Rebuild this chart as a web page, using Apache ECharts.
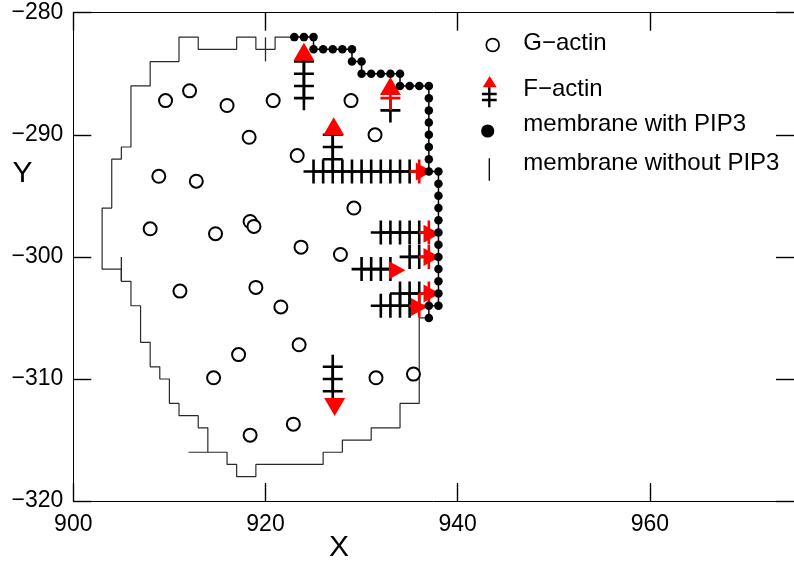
<!DOCTYPE html>
<html>
<head>
<meta charset="utf-8">
<script src="https://cdn.jsdelivr.net/npm/echarts@6/dist/echarts.min.js"></script>
<style>
  html, body { margin: 0; padding: 0; background: #fff; }
  #chart { width: 794px; height: 565px; }
</style>
</head>
<body>
<div id="chart"></div>
<script>
// Axis ticks
const xTicks = [900, 920, 940, 960];
const yTicks = [-320, -310, -300, -290, -280];

// Free G-actin monomers
const gActin = [
  [909.6, -287.2], [912.1, -286.4], [916.0, -287.6], [920.8, -287.2], [928.9, -287.2],
  [918.3, -290.2], [931.4, -290.0], [923.3, -291.7], [908.9, -293.4], [912.8, -293.8],
  [929.2, -296.0], [908.0, -297.7], [914.8, -298.1], [918.4, -297.1], [918.8, -297.5],
  [923.7, -299.2], [927.8, -299.8], [911.1, -302.8], [919.0, -302.5], [921.6, -304.1],
  [923.5, -307.2], [917.2, -308.0], [914.6, -309.9], [931.5, -309.9], [935.4, -309.6],
  [922.9, -313.7], [918.4, -314.6]
];

// Polymerised F-actin subunits
const fActin = [
  [924, -284], [924, -285], [924, -286], [924, -287],
  [933, -288],
  [927, -290], [927, -291], [927, -292],
  [925, -293], [926, -293], [927, -293], [928, -293], [929, -293], [930, -293],
  [931, -293], [932, -293], [933, -293], [934, -293], [935, -293],
  [932, -298], [933, -298], [934, -298], [935, -298], [936, -298],
  [935, -300], [936, -300],
  [930, -301], [931, -301], [932, -301], [933, -301],
  [934, -303], [935, -303], [936, -303],
  [932, -304], [933, -304], [934, -304], [935, -304],
  [927, -309], [927, -310], [927, -311]
];

// Subunit at the growing end of a filament, where it shows beside the arrowhead
const fActinEnds = [
  [933, -287], [936, -293], [937, -298], [937, -300], [937, -303], [936, -304]
];

// Barbed-end arrowheads, grouped by growth direction
const tipsUp = [[924, -283.2], [933, -286.0], [927.1, -289.3]];
const tipsRight = [[936.5, -293.0], [937.3, -298.1], [937.3, -300.0], [933.7, -301.1], [937.3, -303.0], [936.0, -304.1]];
const tipsDown = [[927.2, -312.3]];

// Membrane contour without PIP3
const membraneOutline = [
  [923, -282], [921, -282], [921, -283], [919, -283], [919, -282], [917, -282], [917, -283],
  [913, -283], [913, -282], [911, -282], [911, -284], [908, -284], [908, -286], [906, -286],
  [906, -291], [905, -291], [905, -292], [904, -292], [904, -296], [903, -296], [903, -301],
  [905, -301], [905, -302], [906, -302], [906, -304], [907, -304], [907, -307], [908, -307],
  [908, -309], [909, -309], [909, -310], [910, -310], [910, -312], [911, -312], [911, -313],
  [913, -313], [913, -314], [914, -314], [914, -316], [912, -316], [916, -316], [916, -317],
  [917, -317], [917, -318], [919, -318], [919, -317], [926, -317], [926, -316], [928, -316],
  [928, -315], [931, -315], [931, -314], [934, -314], [934, -312], [936, -312], [936, -305],
  [937, -305]
];
const membraneMarks = [[920, -283], [905, -301]];

// Membrane elements carrying PIP3
const membranePIP3 = [
  [923, -282], [924, -282], [925, -282], [925, -283], [926, -283], [927, -283], [928, -283],
  [929, -283], [929, -284], [930, -284], [930, -285], [931, -285], [932, -285], [933, -285],
  [934, -285], [934, -286], [935, -286], [936, -286], [937, -286], [937, -287], [937, -288],
  [937, -289], [937, -290], [937, -291], [937, -292], [937, -293], [938, -293], [938, -294],
  [938, -295], [938, -296], [938, -297], [938, -298], [938, -299], [938, -300], [938, -301],
  [938, -302], [938, -303], [938, -304], [937, -304], [937, -305]
];

const FONT = "'Liberation Sans', Arial, Helvetica, sans-serif";
const minus = v => String(v).replace('-', '\u2212');

function svgIcon(body) {
  const svg = "<svg xmlns='http://www.w3.org/2000/svg' width='40' height='40' viewBox='0 0 40 40'>" + body + "</svg>";
  return 'image://data:image/svg+xml;charset=utf-8,' + encodeURIComponent(svg);
}
const icons = {
  g: svgIcon("<circle cx='14.4' cy='21.7' r='6.4' fill='none' stroke='black' stroke-width='1.7'/>"),
  f: svgIcon("<polygon points='11.4,6.5 18.4,17.8 4.4,17.8' fill='red'/>" +
             "<path d='M11,17.8V37.8M3.6,24.5H18.4M3.6,30.5H18.4' stroke='black' stroke-width='2.4' fill='none'/>"),
  pip: svgIcon("<circle cx='9.4' cy='26.5' r='6.6' fill='black'/>"),
  none: svgIcon("<path d='M11,15V37.4' stroke='black' stroke-width='1.3' fill='none'/>")
};

const CROSS = 'path://M8.7,0H11.3V10.7H20V13.3H11.3V24H8.7V13.3H0V10.7H8.7Z';

const axisCommon = {
  type: 'value',
  axisLine: { show: true, onZero: false, lineStyle: { color: '#000', width: 1 } },
  axisTick: { show: true, inside: true, length: 18, lineStyle: { color: '#000', width: 1.4 } },
  splitLine: { show: false },
};

function legendItem(name, icon, top) {
  return {
    data: [{ name: name, icon: icon }],
    left: 478.3, top: top, padding: 0,
    itemWidth: 40, itemHeight: 40,
    selectedMode: false,
    textStyle: { color: '#000', fontSize: 24, fontFamily: FONT }
  };
}

const chart = echarts.init(document.getElementById('chart'), null, { renderer: 'canvas' });
chart.setOption({
  animation: false,
  backgroundColor: '#fff',
  grid: { left: 73.3, top: 12.7, width: 728.4, height: 488.4, containLabel: false },
  xAxis: [
    Object.assign({}, axisCommon, {
      min: 900, max: 975, interval: 20, position: 'bottom',
      axisTick: Object.assign({}, axisCommon.axisTick, { customValues: xTicks }),
      axisLabel: { customValues: xTicks, color: '#000', fontSize: 23, fontFamily: FONT, margin: 12, formatter: minus }
    }),
    Object.assign({}, axisCommon, {
      min: 900, max: 975, interval: 20, position: 'top',
      axisTick: Object.assign({}, axisCommon.axisTick, { customValues: xTicks }),
      axisLabel: { show: false }
    })
  ],
  yAxis: [
    Object.assign({}, axisCommon, {
      min: -320, max: -280, interval: 10, position: 'left',
      axisTick: Object.assign({}, axisCommon.axisTick, { customValues: yTicks }),
      axisLabel: { customValues: yTicks, color: '#000', fontSize: 23, fontFamily: FONT, margin: 10, formatter: minus }
    }),
    Object.assign({}, axisCommon, {
      min: -320, max: -280, interval: 10, position: 'right',
      axisTick: Object.assign({}, axisCommon.axisTick, { customValues: yTicks }),
      axisLabel: { show: false }
    })
  ],
  legend: [
    legendItem('G\u2212actin', icons.g, 23.3),
    legendItem('F\u2212actin', icons.f, 69.5),
    legendItem('membrane with PIP3', icons.pip, 104.5),
    legendItem('membrane without PIP3', icons.none, 143.3)
  ],
  graphic: [
    { type: 'text', x: 339, y: 548, style: { text: 'X', fontSize: 30, fontFamily: FONT, fill: '#000', align: 'center', verticalAlign: 'middle' } },
    { type: 'text', x: 22.5, y: 174, style: { text: 'Y', fontSize: 30, fontFamily: FONT, fill: '#000', align: 'center', verticalAlign: 'middle' } }
  ],
  series: [
    {
      name: 'membrane without PIP3', type: 'line', data: membraneOutline,
      symbol: 'none', lineStyle: { color: '#2a2a2a', width: 1.2 }, z: 2
    },
    {
      name: 'membrane without PIP3', type: 'scatter', data: membraneMarks,
      symbol: 'rect', symbolSize: [1.3, 24], itemStyle: { color: '#2a2a2a', opacity: 1 }, z: 2
    },
    {
      name: 'G\u2212actin', type: 'scatter', data: gActin,
      symbol: 'emptyCircle', symbolSize: 13,
      itemStyle: { color: '#000', borderColor: '#000', borderWidth: 1.7, opacity: 1 }, z: 3
    },
    {
      name: 'F\u2212actin', type: 'scatter', data: fActin,
      symbol: CROSS, symbolSize: [20, 24], itemStyle: { color: '#000', opacity: 1 }, z: 4
    },
    {
      name: 'F\u2212actin', type: 'scatter', data: fActinEnds,
      symbol: CROSS, symbolSize: [20, 24], itemStyle: { color: '#ff0000', opacity: 1 }, z: 5
    },
    {
      name: 'F\u2212actin', type: 'scatter', data: tipsUp,
      symbol: 'triangle', symbolSize: [21, 18], itemStyle: { color: '#ff0000', opacity: 1 }, z: 6
    },
    {
      name: 'F\u2212actin', type: 'scatter', data: tipsRight,
      symbol: 'triangle', symbolSize: [18, 16.5], symbolRotate: -90, itemStyle: { color: '#ff0000', opacity: 1 }, z: 6
    },
    {
      name: 'F\u2212actin', type: 'scatter', data: tipsDown,
      symbol: 'triangle', symbolSize: [21, 18], symbolRotate: 180, itemStyle: { color: '#ff0000', opacity: 1 }, z: 6
    },
    {
      name: 'membrane with PIP3', type: 'line', data: membranePIP3,
      symbol: 'circle', symbolSize: 8.5, showAllSymbol: true,
      itemStyle: { color: '#000', opacity: 1 }, lineStyle: { color: '#000', width: 1.5 }, z: 7
    }
  ]
});
</script>
</body>
</html>
